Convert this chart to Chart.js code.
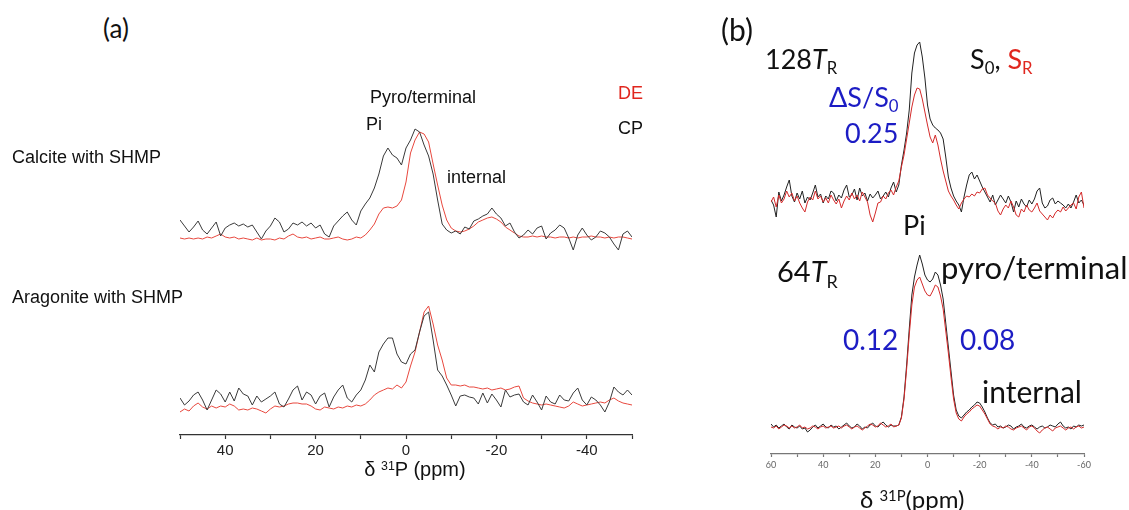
<!DOCTYPE html>
<html>
<head>
<meta charset="utf-8">
<script src="https://cdn.jsdelivr.net/npm/chart.js@4.4.1/dist/chart.umd.min.js"></script>
<style>
  body { margin: 0; background: #fff; width: 1129px; height: 510px; position: relative; overflow: hidden; }
  canvas { position: absolute; }
  .t { position: absolute; white-space: nowrap; line-height: 1; color: #111; }
  .arial { font-family: "Liberation Sans", Arial, sans-serif; }
  .cal { font-family: Lato, "Open Sans", sans-serif; }
  .blue { color: #1c1cc4; }
  .red { color: #e0261e; }
  .sub { font-size: 0.62em; position: relative; top: 0.32em; }
  .sup { font-size: 0.62em; position: relative; top: -0.5em; }
</style>
</head>
<body>
<canvas id="chartA" width="492" height="420" style="left:160px;top:60px"></canvas>
<canvas id="chartB" width="353" height="490" style="left:751px;top:20px"></canvas>

<!-- panel (a) labels -->
<div class="t cal" style="left:103px;top:15px;font-size:26px">(a)</div>
<div class="t arial" style="left:12px;top:148px;font-size:18px">Calcite with SHMP</div>
<div class="t arial" style="left:12px;top:288px;font-size:18px">Aragonite with SHMP</div>
<div class="t arial" style="left:370px;top:88px;font-size:18px">Pyro/terminal</div>
<div class="t arial" style="left:366px;top:115px;font-size:18px">Pi</div>
<div class="t arial" style="left:447px;top:168px;font-size:18px">internal</div>
<div class="t arial red" style="left:618px;top:84px;font-size:18px">DE</div>
<div class="t arial" style="left:618px;top:119px;font-size:18px">CP</div>
<div class="t arial" style="left:415px;top:459px;font-size:20px;transform:translateX(-50%)">δ <span class="sup">31</span>P (ppm)</div>

<!-- panel (b) labels -->
<div class="t cal" style="left:721px;top:14px;font-size:30px">(b)</div>
<div class="t cal" style="left:765px;top:45px;font-size:27px">128<i>T</i><span class="sub">R</span></div>
<div class="t cal" style="left:970px;top:45px;font-size:27px">S<span class="sub">0</span>, <span class="red">S<span class="sub">R</span></span></div>
<div class="t cal blue" style="left:829px;top:83px;font-size:27px">ΔS/S<span class="sub">0</span></div>
<div class="t cal blue" style="left:845px;top:119px;font-size:27px">0.25</div>
<div class="t cal" style="left:903px;top:211px;font-size:27px">Pi</div>
<div class="t cal" style="left:777px;top:256px;font-size:29px">64<i>T</i><span class="sub">R</span></div>
<div class="t cal" style="left:941px;top:252px;font-size:31px">pyro/terminal</div>
<div class="t cal blue" style="left:843px;top:325px;font-size:28px">0.12</div>
<div class="t cal blue" style="left:960px;top:325px;font-size:28px">0.08</div>
<div class="t cal" style="left:982px;top:376px;font-size:30px">internal</div>
<div class="t cal" style="left:860px;top:487px;font-size:24px">δ <span class="sup">31P</span>(ppm)</div>

<script>
// chemical shift grids (ppm), high field on the right
const ppmA = []
for (let p = 50; p >= -50; p--) ppmA.push(p)
const ppmB = []
for (let p = 60; p >= -60; p--) ppmB.push(p)

// (a) calcite with SHMP, 50 -> -50 ppm
const calciteCP = [
  20, 14, 8, 13, 19, 10, 6, 12, 18, 4,
  12, 15, 17, 14, 16, 13, 15, 8, 1, 9,
  14, 22, 18, 8, 11, 17, 15, 18, 14, 17,
  12, 15, 6, 3, 14, 19, 24, 28, 20, 15,
  29, 36, 42, 52, 66, 84, 92, 85, 82, 75,
  92,
  100, 111, 108, 95, 84, 66, 40, 16, 10, 7,
  9, 6, 13, 11, 19, 21, 24, 26, 32, 26,
  22, 14, 17, 8, 2, 5, 10, 6, 12, 14,
  1, 7, 10, 15, 12, 2, -10, 5, 12, 5,
  0, 3, 9, 7, 3, -4, -10, 6, 9, 3
]
const calciteDE = [
  2, 1, 2, 1, 2, 1, 3, 2, 4, 6,
  3, 2, 3, 1, 2, 1, 0, 2, 0, 1,
  1, 0, 2, 1, 4, 6, 3, 2, 3, 1,
  2, 3, 1, 1, 2, 3, 1, 0, 1, 3,
  2, 5, 10, 16, 26, 32, 33, 32, 34, 40,
  58,
  87, 100, 108, 106, 98, 76, 55, 35, 20, 12,
  9, 8, 9, 11, 14, 18, 20, 22, 23, 21,
  18, 13, 10, 7, 4, 3, 3, 4, 3, 4,
  3, 3, 2, 3, 3, 2, 3, 2, 3, 3,
  4, 3, 3, 2, 3, 2, 3, 3, 2, 1
]

// (a) aragonite with SHMP
const aragoniteCP = [
  14, 7, 11, 17, 20, 12, 2, 12, 22, 18,
  10, 20, 11, 24, 18, 16, 7, 16, 10, 13,
  16, 20, 8, 5, 13, 22, 26, 12, 20, 17,
  8, 16, 19, 5, 15, 22, 27, 14, 10, 17,
  22, 32, 47, 40, 60, 68, 74, 74, 58, 50,
  48,
  58, 62, 80, 96, 100, 72, 42, 36, 27, 17,
  6, 16, 17, 15, 14, 8, 19, 9, 18, 12,
  5, 22, 15, 17, 18, 10, 7, 17, 10, 2,
  16, 10, 8, 17, 12, 11, 19, 24, 12, 7,
  15, 12, 7, 0, 10, 25, 20, 17, 22, 17
]
const aragoniteDE = [
  0, 3, 1, 6, 9, 5, 3, 6, 4, 6,
  5, 8, 6, 2, 3, 2, 4, 3, 1, -1,
  3, 6, 5, 6, 8, 9, 9, 8, 8, 6,
  3, 2, 5, 4, 3, 5, 4, 6, 5, 7,
  6, 8, 12, 17, 20, 22, 24, 23, 27, 24,
  30,
  46, 60, 80, 100, 106, 88, 67, 52, 34, 27,
  27, 26, 27, 25, 25, 24, 23, 24, 22, 23,
  24, 22, 23, 25, 26, 14, 11, 9, 8, 7,
  8, 7, 6, 5, 4, 6, 10, 8, 6, 7,
  8, 9, 10, 9, 12, 14, 11, 9, 8, 7
]

// (b) REDOR, 128 rotor periods, 60 -> -60 ppm
const s0Long = [
  5, 0, -12, 13, 4, 10, 18, 25, 9, 3,
  12, 6, 14, 2, 8, 5, 12, 20, 8, 11,
  2, 9, 6, 14, 12, 4, 10, 7, 15, 20,
  8, 10, 16, 5, 17, 9, 12, 4, 11, 7,
  10, 14, 6, 9, 13, 8, 17, 23, 13, 20,
  40, 55, 72, 95, 132, 152, 160, 163, 148, 127,
  100,
  86, 80, 77, 75, 72, 66, 48, 28, 17, 9,
  4, 0, -7, 8, 20, 30, 33, 26, 30, 24,
  18, 13, 8, 3, 10, 0, 5, 10, 6, 2,
  9, 3, -7, 4, -2, 6, 1, -2, 5, 1,
  6, 14, 17, 2, -3, -1, 5, 7, 1, 4,
  2, 0, -3, 1, -3, 3, 10, 2, 5, 0
]
const srLong = [
  3, 8, -2, 10, 2, 6, 14, 8, 12, 4,
  9, 2, -3, -7, 3, 8, 5, 14, 6, 9,
  3, 7, 2, 10, 5, 1, 6, -3, 4, 9,
  5, 12, 6, 10, 4, 13, 8, 3, -10, -17,
  -8, 2, 3, 9, 6, 12, 15, 10, 18, 24,
  38, 50, 66, 82, 98, 110, 117, 116, 106, 93,
  80,
  68, 62, 70, 60, 46, 34, 24, 14, 9, 5,
  0, -4, 2, 6, 9, 8, 11, 9, 13, 12,
  16, 17, 10, 7, 4, 2, -6, -10, -4, 0,
  -3, 4, -2, -10, -12, -4, -7, 0, -5, -7,
  -3, 2, -6, -9, -12, -15, -10, -13, -8, -5,
  -7, -2, -6, -3, 0, 2, -4, 8, 13, -3
]

// (b) REDOR, 64 rotor periods
const s0Short = [
  3, 0, 2, -1, 1, 3, 0, -2, 2, 0,
  -1, 1, -2, -1, -5, -3, 0, 2, -1, 1,
  3, 0, -1, 2, 0, 1, -2, 0, 2, 4,
  1, -1, 0, 3, 1, -2, 0, -1, 2, 4,
  1, 0, 3, 5, 2, 0, 2, 1, 1, 2,
  10, 30, 62, 98, 132, 150, 162, 172, 163, 152,
  147,
  145, 148, 155, 152, 142, 128, 104, 80, 56, 32,
  17, 11, 9, 12, 15, 17, 20, 22, 25, 24,
  20, 15, 9, 4, 2, 3, 0, 1, -1, 0,
  2, 1, -2, 0, 1, 3, 0, -1, 1, 2,
  0, -2, 0, 1, -1, 0, 2, 1, 0, 3,
  5, 1, -1, 0, -2, 1, 0, 2, 1, 2
]
const srShort = [
  0, -1, 1, -2, 0, 2, 1, -1, 1, -1,
  0, 2, -1, 0, -2, -1, 1, 0, -2, 0,
  1, -1, 0, 1, -1, 0, 1, -1, 1, 2,
  0, -2, 0, 1, -1, -3, -1, 1, 3, 2,
  0, 1, 4, 2, 0, 1, 3, 0, 1, 2,
  9, 28, 58, 92, 122, 140, 147, 150, 143, 136,
  132,
  131, 136, 142, 140, 131, 118, 96, 74, 50, 28,
  14, 8, 6, 10, 13, 15, 18, 20, 22, 21,
  17, 13, 8, 3, 1, 0, -2, 0, -1, 1,
  0, -2, -3, -1, 0, 1, -1, -3, 0, 1,
  -1, -4, -6, -3, -1, 0, -2, -4, -1, 0,
  1, -1, -3, -1, 0, -2, 0, 1, -1, 0
]

const BLACK_A = '#3a3a3a'
const RED_A = '#e8483e'
const BLACK_B = '#222'
const RED_B = '#d42a2a'

function trace(ppm, values, shift, color) {
  return {
    data: ppm.map((x, i) => ({ x: x, y: values[i] + shift })),
    borderColor: color,
    borderWidth: 1,
    pointRadius: 0,
    tension: 0,
    fill: false
  }
}

// reversed ppm axis, ticks every 10, labels every 20
function ppmAxis(limit, font, labelColor, lineColor, tickLength, boxHeight) {
  return {
    type: 'linear',
    reverse: true,
    min: -limit,
    max: limit,
    border: { color: lineColor, width: 1.3 },
    grid: { drawOnChartArea: false, tickLength: tickLength, color: lineColor, tickWidth: 1.2 },
    ticks: {
      stepSize: 10,
      autoSkip: false,
      maxRotation: 0,
      padding: 3,
      color: labelColor,
      font: font,
      callback: (v) => v % 20 === 0 ? String(v) : ''
    },
    afterFit: (scale) => { scale.height = boxHeight }
  }
}

const baseOptions = {
  responsive: false,
  animation: false,
  events: [],
  layout: { padding: { left: 20, right: 20, top: 0, bottom: 0 } },
  plugins: { legend: { display: false }, tooltip: { enabled: false } }
}

// offsets stack the two sample pairs above the axis
new Chart(document.getElementById('chartA'), {
  type: 'line',
  data: {
    datasets: [
      trace(ppmA, calciteCP, 195, BLACK_A),
      trace(ppmA, calciteDE, 195, RED_A),
      trace(ppmA, aragoniteCP, 23, BLACK_A),
      trace(ppmA, aragoniteDE, 23, RED_A)
    ]
  },
  options: {
    ...baseOptions,
    scales: {
      x: ppmAxis(50, { family: '"Liberation Sans", Arial', size: 15 }, '#222', '#333', 4, 45),
      y: { display: false, min: 0, max: 375 }
    }
  }
})

new Chart(document.getElementById('chartB'), {
  type: 'line',
  data: {
    datasets: [
      trace(ppmB, srLong, 249, RED_B),
      trace(ppmB, s0Long, 249, BLACK_B),
      trace(ppmB, srShort, 27, RED_B),
      trace(ppmB, s0Short, 27, BLACK_B)
    ]
  },
  options: {
    ...baseOptions,
    scales: {
      x: ppmAxis(60, { family: 'Lato', size: 9 }, '#666', '#777', 3, 56),
      y: { display: false, min: 0, max: 434 }
    }
  }
})
</script>
</body>
</html>
